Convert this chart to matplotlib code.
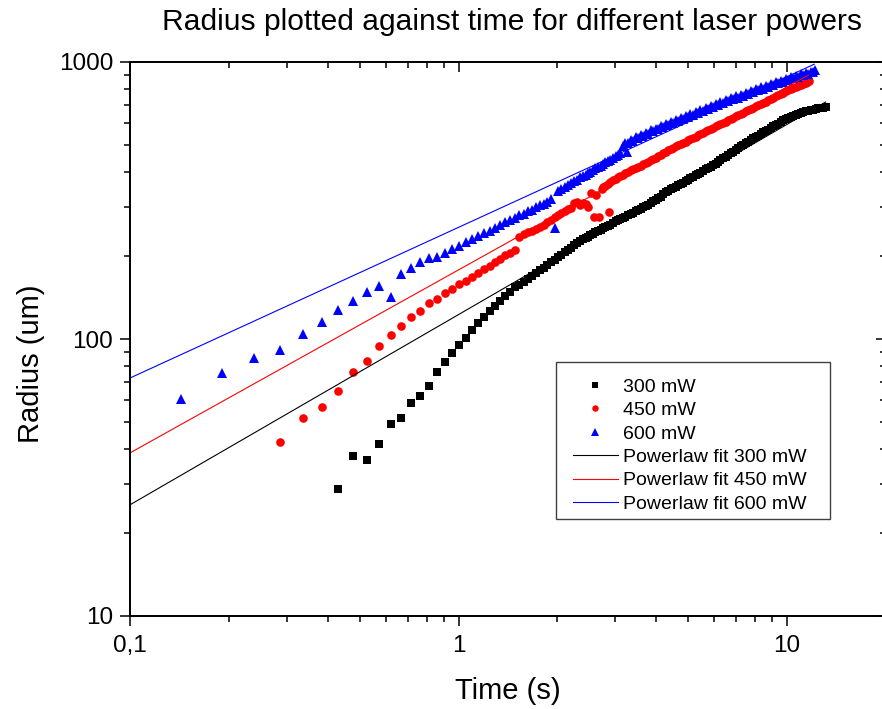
import matplotlib
matplotlib.use("Agg")
import matplotlib.pyplot as plt
from matplotlib.ticker import NullFormatter
from matplotlib.patches import Rectangle

plt.rcParams['font.family'] = ['Liberation Sans', 'DejaVu Sans']

# 300 mW series (time in s, radius in um)
t_300 = [0.430, 0.478, 0.526, 0.574, 0.622, 0.669, 0.717, 0.765, 0.813, 0.861,
         0.908, 0.956, 1.004, 1.052, 1.100, 1.148, 1.195, 1.243, 1.291, 1.339,
         1.387, 1.434, 1.482, 1.530, 1.578, 1.626, 1.673, 1.721, 1.769, 1.817,
         1.865, 1.912, 1.960, 2.008, 2.056, 2.104, 2.151, 2.199, 2.247, 2.295,
         2.35, 2.39, 2.44, 2.48, 2.52, 2.57, 2.61, 2.66, 2.71, 2.75,
         2.80, 2.85, 2.90, 2.95, 3.01, 3.06, 3.11, 3.17, 3.22, 3.28,
         3.34, 3.40, 3.46, 3.52, 3.58, 3.65, 3.71, 3.78, 3.84, 3.91,
         3.98, 4.05, 4.12, 4.19, 4.27, 4.34, 4.42, 4.50, 4.58, 4.66,
         4.74, 4.82, 4.91, 5.00, 5.08, 5.17, 5.27, 5.36, 5.45, 5.55,
         5.65, 5.75, 5.85, 5.95, 6.06, 6.17, 6.27, 6.39, 6.50, 6.61,
         6.73, 6.85, 6.97, 7.09, 7.22, 7.35, 7.48, 7.61, 7.74, 7.88,
         8.02, 8.16, 8.31, 8.45, 8.60, 8.75, 8.91, 9.07, 9.23, 9.39,
         9.56, 9.72, 9.90, 10.07, 10.25, 10.43, 10.61, 10.80, 10.99, 11.19,
         11.38, 11.59, 11.79, 12.00, 12.21, 12.43, 12.65, 12.87, 13.10]
r_300 = [28.7, 37.8, 36.7, 41.7, 49.5, 52.0, 58.6, 62.3, 67.8, 76.2,
         82.6, 88.8, 95.4, 101.1, 107.8, 114.2, 120.1, 125.9, 131.9, 137.5,
         142.9, 148.2, 153.7, 156.4, 160.6, 164.7, 168.8, 172.7, 176.8, 180.4,
         184.5, 189.6, 192.8, 196.9, 201.0, 205.5, 209.5, 213.6, 217.6, 221.2,
         225.8, 229.5, 231.5, 233.6, 236.4, 239.0, 242.4, 245.3, 247.4, 250.9,
         253.7, 256.0, 259.0, 262.8, 265.6, 268.0, 271.2, 274.5, 276.8, 279.3,
         282.7, 286.0, 288.6, 291.2, 294.7, 298.9, 302.1, 305.4, 309.7, 314.0,
         317.6, 321.8, 326.9, 333.0, 338.0, 342.4, 348.0, 351.5, 353.8, 358.6,
         362.7, 367.0, 371.9, 375.4, 379.7, 384.8, 389.3, 393.8, 399.1, 404.5,
         409.2, 413.9, 419.5, 425.2, 430.1, 435.9, 442.8, 448.7, 454.0, 460.2,
         467.4, 474.6, 481.2, 487.8, 495.4, 502.0, 507.9, 515.0, 522.9, 529.8,
         536.1, 542.5, 549.6, 556.9, 563.5, 570.2, 577.7, 585.3, 592.3, 599.4,
         607.3, 615.3, 622.6, 627.6, 633.1, 638.7, 643.7, 649.3, 654.5, 658.9,
         662.7, 667.1, 671.0, 673.6, 676.6, 679.6, 682.2, 684.0, 686.2]

# 450 mW series
t_450 = [0.287, 0.335, 0.383, 0.430, 0.478, 0.526, 0.574, 0.622, 0.669, 0.717,
         0.765, 0.813, 0.861, 0.908, 0.956, 1.004, 1.052, 1.100, 1.148, 1.195,
         1.243, 1.291, 1.339, 1.387, 1.434, 1.482, 1.530, 1.578, 1.626, 1.673,
         1.721, 1.769, 1.817, 1.865, 1.912, 1.960, 2.008, 2.056, 2.104, 2.151,
         2.199, 2.247, 2.295, 2.343, 2.390, 2.438, 2.486, 2.534, 2.582, 2.629,
         2.677, 2.725, 2.75, 2.80, 2.85, 2.88, 2.90, 2.95, 3.01, 3.06,
         3.11, 3.17, 3.22, 3.28, 3.34, 3.40, 3.46, 3.52, 3.58, 3.65,
         3.71, 3.78, 3.84, 3.91, 3.98, 4.05, 4.12, 4.19, 4.27, 4.34,
         4.42, 4.50, 4.58, 4.66, 4.74, 4.82, 4.91, 5.00, 5.08, 5.17,
         5.27, 5.36, 5.45, 5.55, 5.65, 5.75, 5.85, 5.95, 6.06, 6.17,
         6.27, 6.39, 6.50, 6.61, 6.73, 6.85, 6.97, 7.09, 7.22, 7.35,
         7.48, 7.61, 7.74, 7.88, 8.02, 8.16, 8.31, 8.45, 8.60, 8.75,
         8.91, 9.07, 9.23, 9.39, 9.56, 9.72, 9.90, 10.07, 10.25, 10.43,
         10.61, 10.80, 10.99, 11.19, 11.38, 11.50, 11.63]
r_450 = [42.5, 51.9, 56.7, 64.9, 75.8, 83.6, 94.6, 103.1, 111.1, 120.1,
         126.5, 134.6, 139.4, 146.0, 151.5, 158.0, 162.6, 168.1, 173.8, 178.9,
         184.2, 188.9, 194.4, 200.2, 204.4, 208.7, 234.4, 238.4, 242.4, 246.4,
         249.5, 253.7, 259.0, 264.5, 270.0, 275.7, 280.3, 285.0, 289.8, 294.7,
         298.0, 309.0, 313.2, 304.7, 310.5, 306.5, 300.4, 337.5, 276.4, 331.1,
         275.0, 348.0, 353.0, 358.2, 363.0, 288.2, 368.8, 373.9, 378.0, 383.2,
         387.7, 392.0, 397.4, 401.2, 405.8, 410.4, 414.3, 418.2, 423.0, 427.8,
         431.9, 436.9, 442.8, 447.8, 452.1, 456.5, 461.6, 467.8, 473.3, 479.6,
         485.2, 489.9, 495.4, 501.0, 505.8, 510.7, 516.4, 522.2, 527.2, 532.4,
         538.3, 544.3, 549.6, 555.0, 561.2, 567.6, 573.1, 578.6, 585.0, 591.6,
         597.3, 603.0, 609.8, 616.5, 622.6, 628.8, 635.7, 642.7, 649.0, 655.4,
         662.7, 670.0, 676.6, 683.3, 690.8, 698.4, 705.3, 712.4, 720.1, 728.0,
         735.4, 742.7, 750.7, 758.9, 766.5, 774.1, 782.6, 791.2, 799.1, 805.3,
         812.4, 819.6, 826.0, 832.4, 839.8, 845.0, 850.4]

# 600 mW series
t_600 = [0.143, 0.191, 0.239, 0.287, 0.335, 0.383, 0.430, 0.478, 0.526, 0.574,
         0.622, 0.669, 0.717, 0.765, 0.813, 0.861, 0.908, 0.956, 1.004, 1.052,
         1.100, 1.148, 1.195, 1.243, 1.291, 1.339, 1.387, 1.434, 1.482, 1.530,
         1.578, 1.626, 1.673, 1.721, 1.769, 1.817, 1.865, 1.912, 1.960, 2.008,
         2.056, 2.104, 2.151, 2.199, 2.247, 2.295, 2.35, 2.39, 2.44, 2.48,
         2.52, 2.57, 2.61, 2.66, 2.71, 2.75, 2.80, 2.85, 2.90, 2.95,
         3.01, 3.06, 3.11, 3.16, 3.22, 3.25, 3.28, 3.34, 3.40, 3.46,
         3.52, 3.58, 3.65, 3.71, 3.78, 3.84, 3.91, 3.98, 4.05, 4.12,
         4.19, 4.27, 4.34, 4.42, 4.50, 4.58, 4.66, 4.74, 4.82, 4.91,
         5.00, 5.08, 5.17, 5.27, 5.36, 5.45, 5.55, 5.65, 5.75, 5.85,
         5.95, 6.06, 6.17, 6.27, 6.39, 6.50, 6.61, 6.73, 6.85, 6.97,
         7.09, 7.22, 7.35, 7.48, 7.61, 7.74, 7.88, 8.02, 8.16, 8.31,
         8.45, 8.60, 8.75, 8.91, 9.07, 9.23, 9.39, 9.56, 9.72, 9.90,
         10.07, 10.25, 10.43, 10.61, 10.80, 10.99, 11.19, 11.38, 11.59, 11.79,
         12.00, 12.13]
r_600 = [60.6, 75.2, 85.4, 91.3, 104.0, 115.5, 127.3, 137.1, 147.5, 155.4,
         142.1, 172.2, 180.9, 189.2, 195.6, 198.5, 204.4, 211.3, 216.6, 224.0,
         228.7, 235.4, 240.4, 246.4, 251.6, 258.0, 263.4, 268.9, 273.4, 279.2,
         283.8, 289.8, 293.4, 299.6, 304.6, 308.4, 313.6, 318.9, 251.0, 342.2,
         348.0, 353.8, 359.7, 365.7, 371.9, 376.5, 382.9, 387.0, 392.5, 398.0,
         402.4, 407.9, 412.6, 417.0, 423.0, 428.9, 433.7, 438.6, 444.6, 450.8,
         455.9, 461.1, 467.4, 497.5, 507.9, 475.2, 512.0, 521.5, 520.0, 534.0,
         531.5, 544.0, 541.0, 553.5, 551.0, 566.0, 561.5, 575.0, 571.0, 585.0,
         582.0, 597.0, 591.5, 608.0, 603.0, 618.0, 612.0, 629.0, 622.5, 639.0,
         633.0, 650.0, 644.0, 661.0, 654.5, 672.0, 665.0, 683.0, 676.0, 694.0,
         688.0, 706.0, 699.0, 718.0, 710.0, 730.0, 722.0, 742.0, 733.0, 751.0,
         744.0, 763.0, 755.0, 773.0, 765.0, 786.0, 778.0, 799.0, 790.0, 809.0,
         801.0, 822.0, 814.0, 832.0, 826.0, 846.0, 838.0, 856.0, 848.0, 866.0,
         861.0, 881.0, 874.0, 891.0, 885.0, 902.0, 896.0, 913.0, 907.0, 924.0,
         920.0, 931.8]

# power law fits (end points of the straight lines in log-log)
fit_t_300 = [0.1, 13.1]
fit_r_300 = [25.2, 717]
fit_t_450 = [0.1, 11.6]
fit_r_450 = [38.8, 897]
fit_t_600 = [0.1, 12.1]
fit_r_600 = [72.3, 982]

fig = plt.figure(figsize=(8.82, 7.09), dpi=100)
ax = fig.add_axes([130 / 882, 93 / 709, 756 / 882, 554 / 709])

ax.plot(t_300, r_300, ls='none', marker='s', ms=5.4, mew=0, color='black', label='300 mW')
ax.plot(t_450, r_450, ls='none', marker='o', ms=6.2, mew=0, color='red', label='450 mW')
ax.plot(t_600, r_600, ls='none', marker='^', ms=7.2, mew=0, color='blue', label='600 mW')
ax.plot(fit_t_300, fit_r_300, color='black', lw=0.8, label='Powerlaw fit 300 mW')
ax.plot(fit_t_450, fit_r_450, color='red', lw=0.8, label='Powerlaw fit 450 mW')
ax.plot(fit_t_600, fit_r_600, color='blue', lw=0.8, label='Powerlaw fit 600 mW')

ax.set_xscale('log')
ax.set_yscale('log')
ax.set_xlim(0.1, 20)
ax.set_ylim(10, 1000)
ax.set_xticks([0.1, 1, 10])
ax.set_xticklabels(['0,1', '1', '10'])
ax.set_yticks([10, 100, 1000])
ax.set_yticklabels(['10', '100', '1000'])
ax.xaxis.set_minor_formatter(NullFormatter())
ax.yaxis.set_minor_formatter(NullFormatter())
ax.tick_params(which='major', direction='out', length=7, width=1.1, labelsize=17.5)
ax.tick_params(axis='x', which='major', pad=7)
ax.tick_params(axis='y', which='major', pad=5)
ax.tick_params(which='minor', direction='out', length=4, width=1.1)
for s in ax.spines.values():
    s.set_linewidth(1.1)

# mirrored inward ticks on top and right
axt = ax.twiny()
axt.set_xscale('log')
axt.set_xlim(0.1, 20)
axt.set_xticks([0.1, 1, 10])
axt.xaxis.set_major_formatter(NullFormatter())
axt.xaxis.set_minor_formatter(NullFormatter())
axt.tick_params(which='major', direction='in', length=7, width=1.1)
axt.tick_params(which='minor', direction='in', length=4, width=1.1)
axr = ax.twinx()
axr.set_yscale('log')
axr.set_ylim(10, 1000)
axr.set_yticks([10, 100, 1000])
axr.yaxis.set_major_formatter(NullFormatter())
axr.yaxis.set_minor_formatter(NullFormatter())
axr.tick_params(which='major', direction='in', length=7, width=1.1)
axr.tick_params(which='minor', direction='in', length=4, width=1.1)
for a in (axt, axr):
    for s in a.spines.values():
        s.set_linewidth(1.1)

ax.set_xlabel('Time (s)', fontsize=21)
ax.set_ylabel('Radius (um)', fontsize=21)
ax.xaxis.set_label_coords(0.5, -0.11)
ax.yaxis.set_label_coords(-0.112, 0.455)

fig.text(512 / 882, 1 - 22 / 709, 'Radius plotted against time for different laser powers',
         ha='center', va='center', fontsize=21.6)

# legend box drawn separately so the entries can sit where they do in the original
ax.add_patch(Rectangle((0.5635, 0.1751), 0.3624, 0.2834, transform=ax.transAxes,
                       facecolor='white', edgecolor='#404040', lw=1.0, zorder=4))
leg = ax.legend(loc='upper left', bbox_to_anchor=(0.586, 0.4296), borderaxespad=0,
                frameon=False, fontsize=14, handlelength=2.3, handletextpad=0.25,
                labelspacing=0.3, borderpad=0, numpoints=1, markerscale=0.75)

fig.savefig('out.png', dpi=100)
